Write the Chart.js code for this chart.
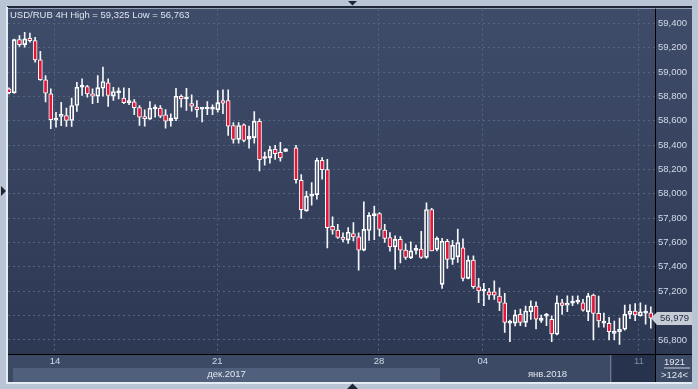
<!DOCTYPE html>
<html>
<head>
<meta charset="utf-8">
<script src="https://cdn.jsdelivr.net/npm/chart.js@4.4.0/dist/chart.umd.min.js"></script>
<style>
  html, body { margin: 0; padding: 0; background: #b9c5d5; }
  canvas { display: block; }
</style>
</head>
<body>
<canvas id="myChart" width="698" height="389"></canvas>
<script>
// USD/RUB 4時間足 (null は抜けてるバー)
const symbol = "USD/RUB 4H";
const opens = [
  58862, 58830, 59266, 59225, 59277, 59258, 59100, 58936, 58821, 58605,
  58635, 58643, 58602, 58725, 58875, 58881, 58821, 58802, 58867, 58912,
  58802, 58830, 58785, 58748, 58756, 58707, 58633, 58613, 58696, 58703,
  58649, 58600, 58616, 58800, 58778, 58740, 58711, 58695, 58696, 58695,
  58690, 58766, 58766, 58561, 58447, 58567, 58449, 58461, 58594, 58290,
  58297, 58365, 58340, 58348, null, 58378, 58111, 57859, 57980, 57993,
  58275, 58198, 57733, 57701, 57644, 57619, 57674, 57646, 57537, 57698,
  57820, 57837, 57701, 57641, 57564, 57625, 57537, 57474, 57535, 57545,
  57477, 57871, 57543, 57256, 57610, 57461, 57482, 57556, 57305, 57455,
  57236, 57200, 57195, 57195, 57160, 57105, 56938, 56937, 57010, 56944,
  57031, 57078, 56960, 56995, 56969, 56846, 57105, 57086, 57102, 57110,
  57105, 57031, 57168, 57018, 56938, 56936, 56854, 56867, 56887, 57010,
  57037, 56998, 57020, 57023
];
const highs = [
  58870, 59270, 59300, 59325, 59320, 59285, 59170, 58970, 58862, 58668,
  58752, 58703, 58785, 58916, 58944, 58890, 58862, 58971, 59040, 58944,
  58875, 58870, 58870, 58867, 58773, 58725, 58690, 58758, 58731, 58725,
  58692, 58657, 58867, 58813, 58867, 58813, 58766, 58705, 58758, 58731,
  58848, 58854, 58854, 58584, 58584, 58575, 58556, 58676, 58616, 58343,
  58389, 58397, 58422, 58372, null, 58397, 58157, 58021, 58092, 58294,
  58297, 58283, 57810, 57750, 57679, 57723, 57764, 57679, 57933, 57846,
  57898, 57846, 57748, 57682, 57654, 57649, 57589, 57605, 57578, 57692,
  57925, 57880, 57646, 57633, 57625, 57617, 57709, 57630, 57491, 57491,
  57305, 57264, 57223, 57285, 57228, 57182, 56963, 57045, 57053, 57078,
  57121, 57113, 57004, 57018, 56998, 57162, 57133, 57162, 57160, 57162,
  57133, 57182, 57176, 57160, 57020, 56985, 56955, 56980, 57085, 57090,
  57099, 57105, 57085, 57071
];
const lows = [
  58820, 58825, 59210, 59205, 59245, 59080, 58930, 58755, 58534, 58548,
  58560, 58553, 58553, 58676, 58807, 58794, 58739, 58748, 58802, 58717,
  58766, 58780, 58739, 58731, 58649, 58561, 58556, 58610, 58630, 58624,
  58539, 58556, 58600, 58711, 58684, 58679, 58630, 58590, 58649, 58649,
  58670, 58657, 58479, 58416, 58416, 58425, 58375, 58416, 58187, 58234,
  58252, 58283, 58267, 58346, null, 58088, 57797, 57855, 57906, 57955,
  58119, 57556, 57668, 57633, 57605, 57592, 57613, 57373, 57530, 57617,
  57624, 57652, 57600, 57529, 57381, 57433, 57461, 57466, 57504, 57470,
  57470, 57531, 57531, 57223, 57387, 57420, 57436, 57285, 57300, 57223,
  57105, 57080, 57133, 57133, 57039, 56862, 56785, 56914, 56916, 56908,
  56969, 56889, 56944, 56916, 56785, 56840, 57010, 57031, 57080, 57095,
  57035, 56958, 56800, 56904, 56905, 56800, 56800, 56763, 56880, 56975,
  56958, 56995, 56930, 56896
];
const closes = [
  58830, 59266, 59225, 59272, 59258, 59100, 58938, 58826, 58608, 58612,
  58645, 58602, 58725, 58875, 58880, 58821, 58802, 58872, 58922, 58807,
  58840, 58836, 58748, 58752, 58707, 58630, 58616, 58703, 58700, 58638,
  58597, 58621, 58801, 58780, 58782, 58720, 58690, 58700, 58701, 58700,
  58748, 58744, 58556, 58447, 58561, 58439, 58471, 58597, 58280, 58296,
  58362, 58330, 58294, 58370, null, 58116, 57870, 57980, 57986, 58275,
  58198, 57722, 57701, 57641, 57625, 57684, 57646, 57537, 57707, 57823,
  57828, 57707, 57633, 57564, 57625, 57537, 57477, 57531, 57540, 57477,
  57871, 57531, 57633, 57610, 57461, 57578, 57600, 57305, 57455, 57236,
  57203, 57206, 57168, 57168, 57108, 56944, 56944, 57005, 56944, 57037,
  57078, 56971, 56966, 57000, 56848, 57105, 57083, 57100, 57107, 57115,
  57045, 57162, 57018, 56955, 56943, 56867, 56873, 56886, 57010, 57037,
  57004, 57031, 57026, 56979
];

// 価格の目盛り
const priceTicks = [56800, 57000, 57200, 57400, 57600, 57800, 58000,
                    58200, 58400, 58600, 58800, 59000, 59200, 59400];
// 日付の目盛り (バー番号) とラベル
const dayTickAt = [8.8, 39.9, 70.9, 90.8, 120.7];
const dayLabels = ["14", "21", "28", "04", "11"];
const monthStartAt = [-0.2, 82.6];
const monthLabels = ["дек.2017", "янв.2018"];
const barTotal = "1921";
const barShown = ">124<";

const FONT = '"Liberation Sans", Arial, sans-serif';
const fmt = v => v.toLocaleString("en-US");

// ローソク足を棒グラフで組み立てる
const bodies = [], upper = [], lower = [], bodyColors = [];
opens.forEach((o, i) => {
  if (o === null) return;
  const c = closes[i];
  const top = Math.max(o, c), bot = Math.min(o, c);
  bodies.push({x: i, y: [bot, top]});
  bodyColors.push(c < o ? "#e3173a" : "rgba(0,0,0,0)");
  upper.push({x: i, y: [top, highs[i]]});
  lower.push({x: i, y: [lows[i], bot]});
});

const hi = Math.max(...highs.filter(v => v !== null));
const lo = Math.min(...lows.filter(v => v !== null));
const last = closes[closes.length - 1];

// 背景とか枠とか
const frame = {
  id: "frame",
  beforeDraw(chart) {
    const {ctx, chartArea: a, scales: {x, y}} = chart;
    const R = y.right, B = x.bottom;
    ctx.save();
    ctx.fillStyle = "#b9c5d5";
    ctx.fillRect(0, 0, chart.width, chart.height);
    const g = ctx.createLinearGradient(0, a.top, 0, a.bottom);
    g.addColorStop(0, "#3f4c69");
    g.addColorStop(1, "#2d3853");
    ctx.fillStyle = g;
    ctx.fillRect(a.left, a.top, R - a.left, a.bottom - a.top);
    // 下の目盛り帯
    ctx.fillStyle = "#3c4a66";
    ctx.fillRect(a.left, a.bottom, R - a.left, B - a.bottom);
    const m0 = x.getPixelForValue(monthStartAt[0]) + 5;
    const m1 = x.getPixelForValue(monthStartAt[1]);
    ctx.fillStyle = "#505f7b";
    ctx.fillRect(m0, a.bottom + 14, m1 - m0, B - a.bottom - 15);
    ctx.fillStyle = "#27324c";
    ctx.fillRect(a.right - 43, a.bottom + 1, 43, B - a.bottom - 2);
    ctx.fillStyle = "#6a7893";
    ctx.fillRect(a.right - 45, a.bottom + 1, 1, B - a.bottom - 2);
    // 外枠
    ctx.fillStyle = "#1f2636";
    ctx.fillRect(7, 6, R - 7, 2);
    ctx.fillStyle = "#e6ecf4";
    ctx.fillRect(6, 7, 2, B - 7);
    ctx.fillRect(6, B - 1, R - 6, 2);
    // 三角のマーク
    ctx.fillStyle = "#1d2433";
    ctx.beginPath();
    ctx.moveTo(348, 1); ctx.lineTo(357, 1); ctx.lineTo(352.5, 5.5); ctx.closePath(); ctx.fill();
    ctx.beginPath();
    ctx.moveTo(347, 389); ctx.lineTo(358, 389); ctx.lineTo(352.5, 383.5); ctx.closePath(); ctx.fill();
    ctx.beginPath();
    ctx.moveTo(1, 186); ctx.lineTo(6, 191); ctx.lineTo(1, 196); ctx.closePath(); ctx.fill();
    ctx.restore();
  },
  afterDraw(chart) {
    const {ctx, chartArea: a, scales: {x, y}} = chart;
    const R = y.right, B = x.bottom;
    ctx.save();
    ctx.fillStyle = "#000";
    ctx.fillRect(a.right, a.top, 1, B - a.top - 1);
    ctx.fillRect(a.left, a.bottom, R - a.left, 1);
    ctx.font = "9.5px " + FONT;
    ctx.textBaseline = "middle";
    // タイトル
    ctx.fillStyle = "#dde4ef";
    ctx.textAlign = "left";
    ctx.fillText(symbol + " High = " + fmt(hi) + " Low = " + fmt(lo), 10, 15);
    // 月ラベル
    const m0 = x.getPixelForValue(monthStartAt[0]) + 5;
    const m1 = x.getPixelForValue(monthStartAt[1]);
    ctx.textAlign = "center";
    ctx.fillStyle = "#e1e6ef";
    ctx.fillText(monthLabels[0], (m0 + m1) / 2, 374.5);
    ctx.fillText(monthLabels[1], (m1 + a.right) / 2, 374.5);
    // 右下の箱
    ctx.fillText(barTotal, (a.right + R) / 2 + 1, 362);
    ctx.fillText(barShown, (a.right + R) / 2 + 1, 375);
    ctx.fillStyle = "#c9d1de";
    ctx.fillRect(a.right + 9, 367.5, 26, 1);
    // 最終値のタグ
    const py = y.getPixelForValue(last);
    ctx.fillStyle = "#c6ccd5";
    ctx.beginPath();
    ctx.moveTo(a.right - 4, py);
    ctx.lineTo(a.right + 2, py - 6);
    ctx.lineTo(R, py - 6);
    ctx.lineTo(R, py + 7);
    ctx.lineTo(a.right + 2, py + 7);
    ctx.closePath();
    ctx.fill();
    ctx.fillStyle = "#1f2b45";
    ctx.textAlign = "left";
    ctx.fillText(fmt(last), a.right + 5, py + 0.5);
    ctx.restore();
  }
};

let config = {
  type: "bar",
  data: {
    datasets: [{
      data: bodies,
      backgroundColor: bodyColors,
      borderColor: "#ffffff",
      borderWidth: 1,
      borderSkipped: false,
      barThickness: 4,
      minBarLength: 2,
      grouped: false,
      order: 0
    }, {
      data: upper,
      backgroundColor: "#f4f6fa",
      barThickness: 1,
      grouped: false,
      order: 1
    }, {
      data: lower,
      backgroundColor: "#f4f6fa",
      barThickness: 1,
      grouped: false,
      order: 1
    }]
  },
  options: {
    responsive: false,
    animation: false,
    layout: {padding: {left: 8, top: 8, right: 6, bottom: 6}},
    plugins: {legend: {display: false}, tooltip: {enabled: false}},
    scales: {
      x: {
        type: "linear",
        min: -0.2,
        max: 123.8,
        offset: false,
        afterBuildTicks: s => { s.ticks = dayTickAt.map(v => ({value: v})); },
        afterFit: s => { s.height = 29; },
        grid: {color: "#56657f", drawTicks: false, offset: false},
        border: {display: false, dash: [2, 3]},
        ticks: {
          autoSkip: false,
          maxRotation: 0,
          padding: 2,
          color: c => c.index === dayLabels.length - 1 ? "#7e8ba3" : "#d3dae8",
          font: {family: FONT, size: 9.5},
          callback: (v, i) => dayLabels[i]
        }
      },
      y: {
        position: "right",
        min: 56684,
        max: 59520,
        afterBuildTicks: s => { s.ticks = priceTicks.map(v => ({value: v})); },
        afterFit: s => { s.width = 37; },
        grid: {color: "#56657f", drawTicks: false},
        border: {display: false, dash: [2, 3]},
        ticks: {
          autoSkip: false,
          padding: 3,
          color: "#d3dae8",
          font: {family: FONT, size: 9.5},
          callback: v => fmt(v)
        }
      }
    }
  },
  plugins: [frame]
};

window.addEventListener("load", function() {
  let ctx = document.getElementById("myChart").getContext("2d");
  myChart = new Chart(ctx, config);
}, false);
</script>
</body>
</html>
